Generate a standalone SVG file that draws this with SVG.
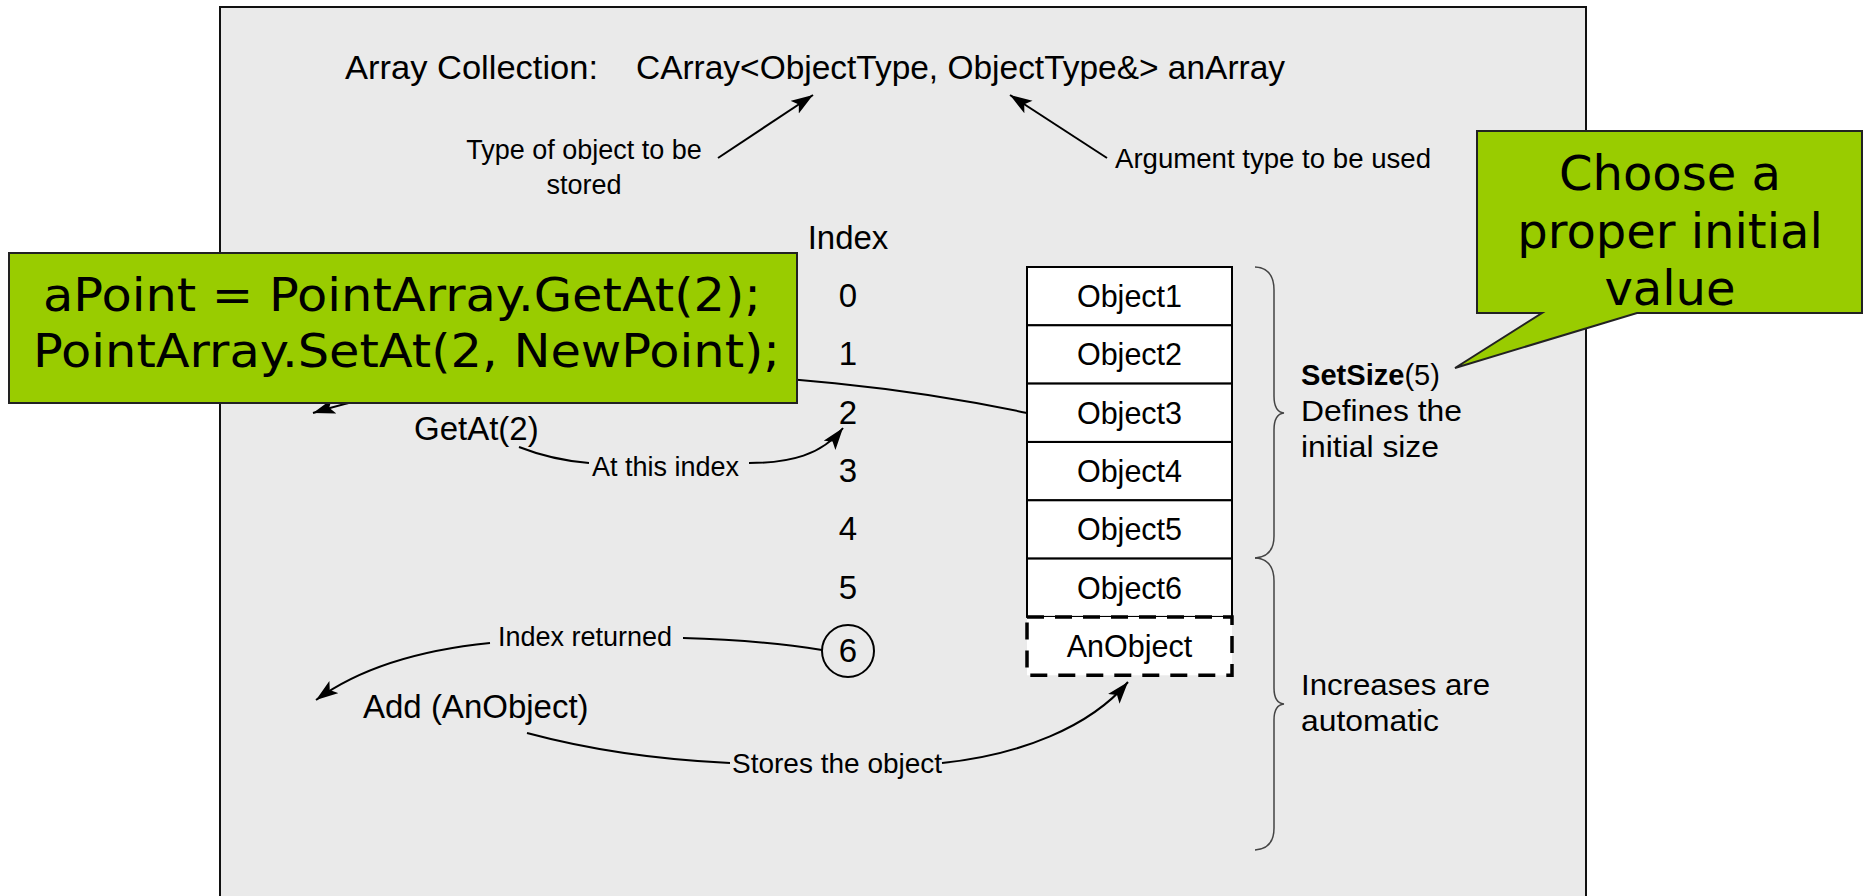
<svg xmlns="http://www.w3.org/2000/svg" width="1863" height="896" viewBox="0 0 1863 896">
<style>
  .t { font-family: "Liberation Sans", Arial, sans-serif; fill: #000; }
  .g { font-family: "DejaVu Sans", Verdana, sans-serif; fill: #000; }
  .box { fill: #fff; stroke: #000; stroke-width: 2; }
  .conn { fill: none; stroke: #000; stroke-width: 2; }
  .green { fill: #99CC00; stroke: #222; stroke-width: 2; }
  .brace { fill: none; stroke: #444; stroke-width: 1.5; }
</style>
<defs>
  <marker id="arr" markerUnits="userSpaceOnUse" markerWidth="24" markerHeight="16" refX="22" refY="7.5" orient="auto">
    <path d="M0,0 L22,7.5 L0,15 L5,7.5 z" fill="#000"/>
  </marker>
</defs>

<g id="frame">
  <rect x="220" y="7" width="1366" height="900" fill="#EAEAEA" stroke="#111" stroke-width="2"/>
</g>

<g id="title">
  <text class="t" x="345" y="79" font-size="34" textLength="253" lengthAdjust="spacingAndGlyphs">Array Collection:</text>
  <text class="t" x="636" y="79" font-size="34" textLength="649" lengthAdjust="spacingAndGlyphs">CArray&lt;ObjectType, ObjectType&amp;&gt; anArray</text>
</g>

<g id="label-type">
  <text class="t" x="584" y="159" font-size="27" text-anchor="middle">Type of object to be</text>
  <text class="t" x="584" y="194" font-size="27" text-anchor="middle">stored</text>
</g>

<g id="label-argument">
  <text class="t" x="1115" y="168" font-size="27.5" textLength="316" lengthAdjust="spacingAndGlyphs">Argument type to be used</text>
</g>

<g id="index-column" class="t" font-size="33" text-anchor="middle">
  <text class="t" x="848" y="249" text-anchor="middle" font-size="33">Index</text>
  <text class="t" x="848" y="307" text-anchor="middle" font-size="33">0</text>
  <text class="t" x="848" y="365" text-anchor="middle" font-size="33">1</text>
  <text class="t" x="848" y="423.5" text-anchor="middle" font-size="33">2</text>
  <text class="t" x="848" y="482" text-anchor="middle" font-size="33">3</text>
  <text class="t" x="848" y="540" text-anchor="middle" font-size="33">4</text>
  <text class="t" x="848" y="598.5" text-anchor="middle" font-size="33">5</text>
</g>

<g id="index-6">
  <circle cx="848" cy="651" r="26" fill="none" stroke="#000" stroke-width="2"/>
  <text class="t" x="848" y="662" text-anchor="middle" font-size="33">6</text>
</g>

<g id="object1"><rect class="box" x="1027" y="267" width="205" height="58.3"/><text class="t" x="1129.5" y="307" text-anchor="middle" font-size="30.5">Object1</text></g>
<g id="object2"><rect class="box" x="1027" y="325.3" width="205" height="58.3"/><text class="t" x="1129.5" y="365.3" text-anchor="middle" font-size="30.5">Object2</text></g>
<g id="object3"><rect class="box" x="1027" y="383.6" width="205" height="58.3"/><text class="t" x="1129.5" y="423.6" text-anchor="middle" font-size="30.5">Object3</text></g>
<g id="object4"><rect class="box" x="1027" y="442" width="205" height="58.3"/><text class="t" x="1129.5" y="482" text-anchor="middle" font-size="30.5">Object4</text></g>
<g id="object5"><rect class="box" x="1027" y="500.3" width="205" height="58.3"/><text class="t" x="1129.5" y="540.3" text-anchor="middle" font-size="30.5">Object5</text></g>
<g id="object6"><rect class="box" x="1027" y="558.6" width="205" height="58.3"/><text class="t" x="1129.5" y="598.6" text-anchor="middle" font-size="30.5">Object6</text></g>
<g id="anobject">
  <rect x="1027" y="617" width="205" height="58.3" fill="#fff" stroke="#000" stroke-width="3.5" stroke-dasharray="17 11"/>
  <text class="t" x="1129.5" y="657" text-anchor="middle" font-size="30.5">AnObject</text>
</g>

<g id="brace-initial">
  <path class="brace" d="M1255,267 Q1274,268 1274,290 L1274,396 Q1274,412 1284,413 Q1274,414 1274,430 L1274,536 Q1274,557 1255,558"/>
  <text class="t" x="1301" y="385" font-size="29" textLength="139" lengthAdjust="spacingAndGlyphs"><tspan font-weight="bold">SetSize</tspan>(5)</text>
  <text class="t" x="1301" y="421" font-size="29" textLength="161" lengthAdjust="spacingAndGlyphs">Defines the</text>
  <text class="t" x="1301" y="457" font-size="29" textLength="138" lengthAdjust="spacingAndGlyphs">initial size</text>
</g>

<g id="brace-auto">
  <path class="brace" d="M1255,558 Q1274,559 1274,581 L1274,688 Q1274,703 1284,704 Q1274,705 1274,720 L1274,828 Q1274,849 1255,850"/>
  <text class="t" x="1301" y="695" font-size="29" textLength="189" lengthAdjust="spacingAndGlyphs">Increases are</text>
  <text class="t" x="1301" y="731" font-size="29" textLength="138" lengthAdjust="spacingAndGlyphs">automatic</text>
</g>

<g id="getat">
  <text class="t" x="414" y="440" font-size="33">GetAt(2)</text>
  <text class="t" x="592" y="476" font-size="27">At this index</text>
</g>

<g id="add">
  <text class="t" x="498" y="646" font-size="27">Index returned</text>
  <text class="t" x="363" y="718" font-size="33">Add (AnObject)</text>
  <text class="t" x="732" y="773" font-size="28">Stores the object</text>
</g>

<g id="connectors">
  <path class="conn" d="M718,158 L813,95" marker-end="url(#arr)"/>
  <path class="conn" d="M1107,158 L1010,95" marker-end="url(#arr)"/>
  <path class="conn" d="M1027,413 C780,360 480,360 313,413" marker-end="url(#arr)"/>
  <path class="conn" d="M519,447 Q552,460 589,463"/>
  <path class="conn" d="M749,463 C790,463 822,455 843,428" marker-end="url(#arr)"/>
  <path class="conn" d="M822,650 Q760,640 683,638"/>
  <path class="conn" d="M490,643 C420,650 360,668 316,700" marker-end="url(#arr)"/>
  <path class="conn" d="M527,733 Q620,758 730,763"/>
  <path class="conn" d="M942,763 C1020,755 1090,727 1128,682" marker-end="url(#arr)"/>
</g>

<g id="code-box">
  <rect class="green" x="9" y="253" width="788" height="150"/>
  <text class="g" x="43" y="311" font-size="46" textLength="718" lengthAdjust="spacingAndGlyphs">aPoint = PointArray.GetAt(2);</text>
  <text class="g" x="33" y="367" font-size="46" textLength="747" lengthAdjust="spacingAndGlyphs">PointArray.SetAt(2, NewPoint);</text>
</g>

<g id="callout">
  <path class="green" d="M1477,131 L1862,131 L1862,313 L1637,313 L1455,368 L1542,313 L1477,313 Z"/>
  <text class="g" x="1670" y="190" font-size="48" text-anchor="middle">Choose a</text>
  <text class="g" x="1670" y="248" font-size="48" text-anchor="middle">proper initial</text>
  <text class="g" x="1670" y="305" font-size="48" text-anchor="middle">value</text>
</g>
</svg>
